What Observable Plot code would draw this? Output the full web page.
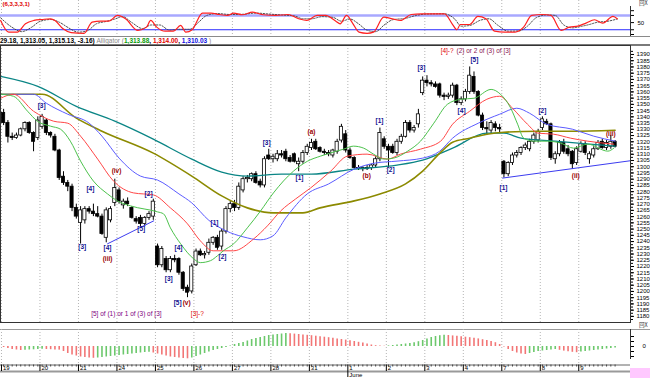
<!DOCTYPE html>
<html><head><meta charset="utf-8">
<script src="https://cdn.jsdelivr.net/npm/d3@7"></script>
<script src="https://cdn.jsdelivr.net/npm/@observablehq/plot@0.6"></script>
<style>
body{margin:0;background:#fff;}
#c{position:relative;width:650px;height:378px;overflow:hidden;background:#fff;font-family:"Liberation Sans",Arial,sans-serif;}
#c svg{position:absolute;left:0;}
.ln{position:absolute;}
#legend{position:absolute;left:0;top:37px;height:7px;line-height:7px;font-size:6.5px;font-weight:bold;white-space:nowrap;color:#000;}
</style></head><body><div id="c"></div>
<script>
// ---------- data ----------
const dayLabels = ["19","20","21","24","25","26","27","28","31","1","2","3","4","7","8","9"];
const barsPerDay = 9;
// hourly candles: [open, high, low, close]
const candles = [
 [1343,1346,1333,1335],[1335,1337,1319,1324],[1324,1327,1321,1323],[1323,1327,1322,1325],[1325,1331,1324,1330],[1330,1336,1328,1335],[1335,1336,1326,1327],[1327,1328,1312,1320],[1323,1340,1321,1337],
 [1332,1342,1330,1340],[1337,1338,1325,1327],[1327,1328,1323,1325],[1324,1326,1312,1313],[1313,1314,1289,1291],[1292,1296,1285,1287],[1287,1289,1280,1284],[1284,1286,1264,1267],[1267,1270,1258,1260],
 [1255,1268,1238,1265],[1257,1268,1254,1266],[1266,1268,1262,1264],[1264,1270,1260,1262],[1262,1268,1259,1260],[1260,1262,1245,1246],[1243,1267,1239,1265],[1257,1268,1255,1266],[1271,1290,1268,1283],
 [1281,1283,1270,1272],[1269,1274,1266,1272],[1272,1275,1268,1270],[1267,1268,1258,1259],[1258,1260,1254,1256],[1259,1261,1252,1254],[1254,1260,1252,1259],[1259,1264,1257,1262],[1260,1274,1257,1272],
 [1236,1238,1219,1221],[1221,1236,1219,1234],[1226,1228,1215,1217],[1217,1228,1215,1226],[1226,1229,1223,1225],[1226,1227,1213,1215],[1215,1216,1200,1202],[1203,1205,1195,1199],[1200,1222,1198,1220],
 [1221,1234,1220,1232],[1232,1234,1228,1229],[1229,1232,1226,1230],[1231,1242,1229,1239],[1239,1244,1237,1243],[1243,1245,1233,1235],[1236,1250,1233,1248],[1248,1268,1246,1266],[1266,1272,1263,1270],
 [1270,1273,1264,1267],[1267,1287,1265,1284],[1281,1292,1279,1290],[1290,1293,1287,1291],[1290,1295,1288,1294],[1294,1296,1286,1287],[1288,1290,1283,1285],[1285,1308,1283,1306],[1309,1314,1305,1306],
 [1306,1310,1303,1308],[1306,1313,1304,1310],[1310,1313,1307,1309],[1312,1314,1304,1306],[1307,1309,1303,1304],[1310,1311,1303,1304],[1302,1307,1296,1304],[1304,1313,1302,1311],[1311,1318,1309,1316],
 [1315,1322,1313,1319],[1320,1322,1313,1314],[1315,1316,1311,1312],[1312,1314,1309,1311],[1311,1313,1308,1310],[1309,1314,1307,1313],[1312,1322,1310,1320],[1321,1334,1319,1332],[1326,1329,1311,1313],
 [1313,1315,1306,1307],[1307,1308,1298,1299],[1299,1301,1297,1298],[1298,1300,1296,1299],[1299,1301,1297,1298],[1299,1302,1297,1301],[1301,1308,1299,1306],[1306,1331,1304,1327],[1322,1324,1314,1316],
 [1316,1318,1299,1313],[1316,1318,1310,1311],[1311,1322,1309,1320],[1320,1326,1318,1324],[1324,1337,1323,1335],[1335,1337,1327,1329],[1329,1333,1327,1331],[1334,1346,1331,1342],[1359,1372,1357,1369],
 [1369,1373,1364,1367],[1367,1369,1364,1366],[1366,1368,1363,1364],[1366,1367,1355,1357],[1357,1359,1353,1356],[1356,1359,1354,1357],[1357,1367,1355,1365],[1365,1366,1349,1351],[1351,1356,1349,1354],
 [1354,1362,1352,1360],[1360,1380,1358,1373],[1372,1376,1358,1360],[1360,1361,1340,1341],[1341,1343,1329,1331],[1331,1336,1325,1330],[1329,1337,1326,1335],[1334,1336,1328,1331],[1331,1334,1327,1330],
 [1304,1305,1291,1294],[1294,1304,1292,1303],[1303,1311,1301,1309],[1309,1313,1307,1311],[1311,1316,1309,1315],[1315,1319,1313,1317],[1314,1322,1312,1320],[1320,1327,1318,1325],[1321,1330,1319,1328],
 [1331,1340,1329,1338],[1336,1338,1333,1334],[1334,1335,1305,1307],[1306,1312,1302,1310],[1310,1321,1308,1319],[1319,1322,1310,1312],[1314,1317,1308,1310],[1312,1313,1298,1302],[1303,1316,1301,1314],
 [1312,1320,1311,1318],[1318,1320,1309,1311],[1306,1312,1302,1310],[1309,1316,1307,1314],[1314,1321,1313,1319],[1320,1322,1314,1315],[1315,1321,1313,1319],[1316,1325,1314,1320],[1320,1321,1315,1316]
];
// moving averages [barIndex, price]
const maTeal = [[-0.7,1372.4],[8,1364.4],[17,1348.4],[26,1336.5],[35,1322.1],[44,1306.1],[51,1295.7],[57,1292.5],[65,1294.1],[72,1294.1],[82,1298.1],[92,1301.3],[98,1305.3],[105,1314.9],[113,1326.9],[117,1326.9],[121,1322.9],[129,1320.5],[137,1318.1],[143,1316.5]];
const maOlive = [[-0.7,1358.1],[9,1358.1],[17,1339],[23,1328.5],[35,1310.9],[44,1292.5],[51,1276.6],[57,1267],[63,1263],[70,1263],[74,1267],[82,1272.6],[88,1278.2],[94,1286.2],[98,1296.5],[102,1310.9],[105,1319.7],[109,1322.9],[113,1326.1],[117,1327.7],[125,1328.5],[133,1328.5],[143,1329.3]];
const jawBlue = [[-0.7,1358.1],[7,1358.1],[10,1350.9],[15,1342.1],[20,1334.9],[23,1324.5],[27,1306.9],[32,1292.5],[36,1289.3],[41,1278.2],[44,1271],[48,1257],[52,1248.6],[56,1243.8],[60,1241.4],[63,1244.6],[66,1259],[71,1278.2],[76,1286.2],[82,1298.1],[87,1303],[92,1304.5],[98,1306.9],[102,1312.5],[105,1322.9],[111,1334.9],[116,1342.1],[120,1346.9],[123,1342.9],[127,1334.1],[133,1330.1],[138,1324.5],[143,1320.5]];
const teethRed = [[-0.7,1354.9],[2.3,1358.1],[7,1344.5],[11.7,1336.5],[15,1334.9],[18,1324.5],[22,1306.1],[25.7,1288.5],[30.4,1279],[35,1277.4],[39,1267],[43,1254.2],[46,1240.6],[49,1232.6],[53.8,1232.6],[58.5,1242.2],[61.7,1252.6],[64.8,1264.6],[68.3,1274.2],[71.8,1283],[76.5,1296.5],[80.4,1308.5],[85,1310.1],[89.8,1306.1],[92.8,1310.1],[97.5,1314.1],[102.2,1320.5],[105,1334.1],[109,1344.5],[113,1354.1],[116,1356.5],[119,1346.9],[122.5,1334.1],[125,1326.9],[128.6,1326.1],[132.6,1322.9],[136.6,1320.5],[142.7,1318.1]];
const lipsGreen = [[-0.7,1358.1],[2.3,1356.5],[5.6,1344.5],[7.9,1336.5],[11,1332.5],[13.3,1330.1],[15.6,1320.5],[18,1304.5],[21,1288.5],[24.3,1278.2],[26.6,1272.6],[29.7,1268.6],[36,1263.8],[37.4,1262.2],[39,1251],[41.4,1238.2],[44.4,1226.3],[46,1223.1],[48.4,1224.7],[50,1228.6],[51.4,1232.6],[53.8,1238.2],[57,1251],[60.1,1264.6],[63.1,1279],[67.8,1296.5],[71.1,1304.5],[74.1,1308.5],[79.5,1314.1],[81.8,1316.5],[84.2,1314.9],[86.5,1310.1],[88.9,1306.1],[91.2,1306.9],[94.5,1312.5],[97.5,1320.5],[100.6,1334.9],[103.8,1350.1],[106.9,1354.1],[110,1354.9],[114,1362],[116.2,1358.1],[118.6,1346.9],[120.2,1334.1],[121.6,1323],[124,1320.5],[127.2,1320.5],[130.3,1318.9],[133.3,1314.9],[136.6,1318.1],[141.3,1312.5],[142.7,1314.9]];
const trendLines = [
  [[24.3,1238.2],[35.1,1256.6]],
  [[116.7,1290.9],[146.6,1304.8]]
];
const priceTicks = d3.range(1180, 1391, 5);
// wave labels [text, barIndex, price]
const waveBlue = [["[3]",8.9,1348.4],["[4]",20.3,1282.1],["[3]",18.4,1235.8],["[4]",24.3,1235],["[2]",33.9,1278.2],["[5]",32.2,1250.2],["[4]",40.9,1235],["[3]",38.6,1210.3],["[5]",40.7,1191.1],["[1]",49.3,1255],["[2]",51.2,1227.8],["[3]",61.5,1318.9],["[1]",69.2,1290.9],["[1]",87.9,1336.5],["[2]",90.5,1297.5],["[3]",97.7,1379.6],["[4]",107.1,1344.4],["[5]",110.1,1386],["[1]",116.9,1283],["[2]",126,1344.4]];
const waveRed = [["(iii)",24.3,1226.2],["(iv)",26.4,1296.5],["(v)",42.8,1191.1],["(a)",72,1327.7],["(b)",84.9,1292.5],["(ii)",133.8,1292.5],["(iii)",142,1326.1]];
const noteBottom = [["[5] of (1) or 1 of (3) of [3]",28.7,1182.3,"#800080"],["[3]-?",45.3,1182.3,"#e00000"]];
const noteTop = [["[4]-?",102.2,1392.8,"#e00000"],["(2) or 2 of (3) of [3]",105.9,1392.8,"#8a1450"]];
// stochastic (%K solid, %D dotted) [barIndex, value]
const stochK = [[-0.7,59],[1.2,10],[3.2,10],[5.1,45],[7.1,59],[9,63],[11,66],[12,59],[13.9,24],[15.8,8],[18.8,5],[20.7,52],[22.7,56],[24.6,56],[26.6,80],[28.5,66],[31.4,17],[33.4,31],[34.4,59],[35.8,31],[37.8,14],[39.7,14],[41.4,38],[42.6,10],[44.1,20],[46.5,90],[48.5,90],[50.4,84],[52.4,80],[53.8,90],[55.8,83],[58.2,94],[60.7,83],[63.6,80],[66.5,84],[69,66],[70.9,59],[73.3,80],[75.3,80],[77.7,56],[78.7,45],[80.2,80],[81.6,48],[83.1,10],[85,5],[86.5,10],[88.9,73],[90.9,66],[92.8,59],[95.3,84],[97.7,87],[100.6,87],[103.1,87],[105,42],[106,20],[106.8,42],[109,42],[110.9,76],[112.8,66],[114.8,14],[117.2,10],[119.6,10],[121.6,31],[123.5,80],[126,84],[128,80],[130.4,17],[132.3,31],[134.3,35],[136.2,48],[138.2,62],[140.1,48],[142.5,76],[143.5,66]];
const stochD = [[-0.7,70],[2,30],[4.2,12],[6.5,30],[8.5,55],[11,63],[13.2,50],[15,30],[17.5,10],[19.5,15],[21.7,45],[24,55],[26,65],[27.8,75],[30,50],[32.5,25],[34.5,40],[36.5,40],[38.8,18],[41,22],[43.5,22],[45.5,50],[47.5,80],[50,88],[53,84],[56,85],[59,90],[62,86],[65,82],[68,78],[70,66],[72,66],[74.5,75],[77,72],[79,56],[81,65],[83,45],[85,18],[87,12],[89,40],[91,62],[94,68],[96.5,80],[99,86],[103,87],[105.5,65],[107,35],[109,38],[111.5,60],[113.5,66],[115.5,40],[118,14],[120.5,15],[122.5,35],[124.5,70],[127,82],[129,80],[131,40],[133,28],[135,34],[137,42],[139,52],[141,55],[143.5,65]];
const stochTitle = "(6,3,3,3,1)";
// oscillator histogram, one value per bar
const osc = [-1,-2,-3,-3.5,-4,-3.8,-3.5,-3.3,-3,-2.8,
 -3,-3.2,-3.4,-3.6,
 -5,-7,-8.5,-9.5,-10.5,-11,-11.5,-11.8,
 -11.5,-11,-10.5,-10,-9.5,
 -9,-8.5,-8,-7.5,-7,-6.5,-6,-5.8,
 -6.5,-7.5,-8.5,-9.5,-10.5,-11,-11.5,-12,-12.3,
 -11.5,-10,-8.5,-7,-5.5,-4,-3,-2,-1,
 0.5,
 2,3,4,5.5,7,8,9,10,11,11.5,12,12.5,13,
 12.7,12.4,12,11.6,11.2,10.8,10.3,9.8,9.3,8.8,8.2,7.6,7,6.4,5.8,5,4.2,3.4,2.5,
 1.5,0.8,0.4,0.3,
 0.6,1,1.5,2,2.5,3,3.8,4.8,6,7.5,9,10,10.8,11.3,
 11,10.6,10.2,9.8,9.3,8.8,8.3,7.6,6.8,6,5,3.8,
 2,-0.5,-3,-5,-6.5,-7.5,-8,
 -7,-6,-5,-4.5,-4,-3.5,-3,
 -3.8,-4.6,-5.3,-5.8,-6.2,
 -5.6,-5,-4.5,-4,-3.5,-3,-2.5,-2,-1.5];

// ---------- build ----------
const bars = candles.map(([o,h,l,c],i)=>({i,o,h,l,c}));
const dayStarts = dayLabels.map((d,k)=>k*barsPerDay-0.5);
const XD = [-0.73, 146.6];
const xs = {domain: XD, range: [0, 630], axis: null};
const FONT = "Liberation Sans, Arial, sans-serif";
const base = {width: 650, marginTop: 0, marginBottom: 0, marginLeft: 0, marginRight: 20,
  style: {fontFamily: FONT, fontSize: "6px", background: "transparent", overflow: "visible"}};
const grid = Plot.ruleX(dayStarts, {stroke: "#b4b4b4", strokeDasharray: "1,2"});
const c = document.getElementById("c");
function place(svg, top){ svg.style.top = top + "px"; c.appendChild(svg); }
function line(left, top, w, h, col){ const d = document.createElement("div"); d.className="ln"; Object.assign(d.style,{left:left+"px",top:top+"px",width:w+"px",height:h+"px",background:col}); c.appendChild(d); }

// stochastic panel
const stoch = Plot.plot({...base, height: 37,
  x: xs, y: {domain: [0, 100], range: [34, 10.2], axis: null},
  marks: [
    grid,
    Plot.ruleY([80], {stroke: "#a8a8ff", strokeWidth: 2.5}),
    Plot.ruleY([20], {stroke: "#2a2aff", strokeWidth: 1}),
    Plot.line(stochD, {x: d=>d[0], y: d=>d[1], stroke: "#3a3a3a", strokeWidth: 0.9, strokeDasharray: "1.5,1.5", curve: "monotone-x"}),
    Plot.line(stochK, {x: d=>d[0], y: d=>d[1], stroke: "#ff2020", strokeWidth: 1.2, curve: "monotone-x"}),
    Plot.axisY({anchor: "right", ticks: [0, 20, 50, 80, 100], tickSize: 3, tickPadding: 4, fontSize: 6, tickFormat: d => d === 50 ? "50" : ""}),
    Plot.text([stochTitle], {frameAnchor: "top-left", dx: 2, dy: 1, lineAnchor: "top", textAnchor: "start", fill: "#e00000", fontWeight: "bold", fontSize: 6, text: d => d})
  ]});
place(stoch, 0);
line(630, 6, 1, 31, "#333");
line(0, 36, 650, 1, "#8a8a8a");
line(0, 43.5, 650, 2, "#7a7a7a");

// legend row
const lg = document.createElement("div"); lg.id = "legend";
lg.innerHTML = '29.18, 1,313.05, 1,315.13, -3.16) <span style="color:#888;font-weight:normal">Alligator (</span><span style="color:#0a9a0a">1,313.88</span>, <span style="color:#e00000">1,314.00</span>, <span style="color:#1010e0">1,310.03</span> <span style="color:#888;font-weight:normal">)</span>';
c.appendChild(lg);

// main price panel
const main = Plot.plot({...base, height: 277,
  x: xs, y: {domain: [1175.1, 1397.2], axis: null},
  marks: [
    grid,
    Plot.ruleX(bars, {x: "i", y1: "l", y2: "h", stroke: "#000", strokeWidth: 1}),
    Plot.rect(bars, {x1: d => d.i - 0.37, x2: d => d.i + 0.37, y1: "o", y2: "c", fill: d => d.c >= d.o ? "#fff" : "#000", stroke: "#000", strokeWidth: 0.8}),
    Plot.line(maTeal, {x: d=>d[0], y: d=>d[1], stroke: "#0a8585", strokeWidth: 1.3, curve: "monotone-x"}),
    Plot.line(maOlive, {x: d=>d[0], y: d=>d[1], stroke: "#8c8a00", strokeWidth: 1.6, curve: "monotone-x"}),
    Plot.line(jawBlue, {x: d=>d[0], y: d=>d[1], stroke: "#5c5cff", strokeWidth: 1, curve: "monotone-x"}),
    Plot.line(teethRed, {x: d=>d[0], y: d=>d[1], stroke: "#ff4646", strokeWidth: 1, curve: "monotone-x"}),
    Plot.line(lipsGreen, {x: d=>d[0], y: d=>d[1], stroke: "#4cc24c", strokeWidth: 1, curve: "monotone-x"}),
    ...trendLines.map(t => Plot.line(t, {x: d=>d[0], y: d=>d[1], stroke: "#3c3cf0", strokeWidth: 1})),
    Plot.text(waveBlue, {x: d=>d[1], y: d=>d[2], text: d=>d[0], fill: "#101090", fontWeight: "bold", fontSize: 6.5}),
    Plot.text(waveRed, {x: d=>d[1], y: d=>d[2], text: d=>d[0], fill: "#9a0000", fontWeight: "bold", fontSize: 6.5}),
    Plot.text(noteBottom, {x: d=>d[1], y: d=>d[2], text: d=>d[0], fill: d=>d[3], fontSize: 6.5}),
    Plot.text(noteTop, {x: d=>d[1], y: d=>d[2], text: d=>d[0], fill: d=>d[3], fontSize: 6.5, textAnchor: "start"}),
    Plot.axisY({anchor: "right", ticks: d3.range(1177.5, 1395, 2.5), tickSize: 2, tickFormat: () => ""}),
    Plot.axisY({anchor: "right", ticks: priceTicks, tickSize: 3, tickPadding: 3, fontSize: 6, tickFormat: d => String(d)}),
    Plot.frame({stroke: "#333"})
  ]});
place(main, 44.5);

// strip between panels
line(0, 328.5, 650, 1, "#9a9a9a");
const btn = document.createElement("div");
Object.assign(btn.style, {position: "absolute", left: "639px", top: "322px", fontSize: "5.5px", lineHeight: "6px", fontFamily: "'Noto Sans CJK SC',sans-serif", color: "#333"});
btn.textContent = "回X"; c.appendChild(btn);
const btn2 = btn.cloneNode(true); btn2.style.top = "0px"; c.appendChild(btn2);

// oscillator histogram
const hist = Plot.plot({...base, height: 30,
  x: xs, y: {domain: [-13, 17], axis: null},
  marks: [
    grid,
    Plot.ruleX(osc, {x: (d, i) => i, y1: 0, y2: d => d, strokeWidth: 1.6,
      stroke: (d, i) => (i > 0 && d >= osc[i-1]) ? "#6cc86c" : "#f27676"}),
    Plot.axisY({anchor: "right", ticks: [-10, -5, 0, 5, 10], tickSize: 3, tickPadding: 9, fontSize: 6, tickFormat: d => d === 0 ? "0" : ""})
  ]});
place(hist, 329);
line(630, 329, 1, 30, "#333");

// time axis
const xa = Plot.plot({...base, height: 19,
  x: xs, y: {domain: [0, 19], range: [0, 19], axis: null},
  marks: [
    Plot.ruleX(dayStarts, {y1: 0, y2: 5.5, stroke: "#b4b4b4", strokeDasharray: "1,2"}),
    Plot.ruleY([5.5], {stroke: "#666"}),
    Plot.ruleX(bars, {x: "i", y1: 5.5, y2: 7.5, stroke: "#444"}),
    Plot.ruleY([12], {stroke: "#9a9a9a", strokeWidth: 2}),
    Plot.ruleX(dayStarts, {y1: 5.5, y2: (d, k) => dayLabels[k] === "1" ? 18 : 12, stroke: "#000"}),
    Plot.text(dayLabels, {x: (d, k) => dayStarts[k], y: 8.8, dx: 1.5, text: d => d, textAnchor: "start", fontSize: 6, fill: "#000"}),
    Plot.text(["June"], {x: dayStarts[9], y: 16, dx: 1.5, text: d => d, textAnchor: "start", fontSize: 6, fill: "#000"})
  ]});
place(xa, 359);
line(630, 368, 20, 10, "#ffc8ff");
</script>
</body></html>
